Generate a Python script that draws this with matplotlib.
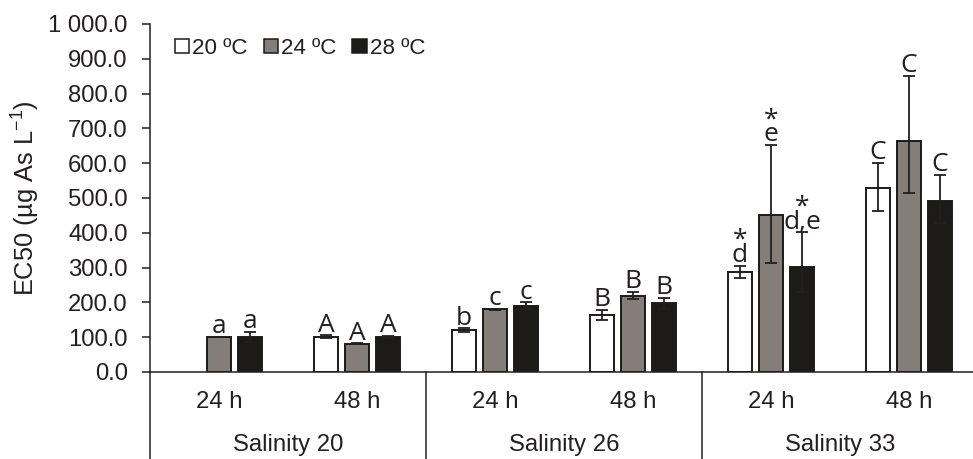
import numpy as np
import matplotlib
matplotlib.use("Agg")
import matplotlib.pyplot as plt
from matplotlib.patches import Patch
from matplotlib.ticker import FuncFormatter
import matplotlib.transforms as mtransforms

# ---------------- data ----------------
times = ["24 h", "48 h", "24 h", "48 h", "24 h", "48 h"]
salinities = ["Salinity 20", "Salinity 26", "Salinity 33"]
temps = ["20 ºC", "24 ºC", "28 ºC"]

ec50_20 = [np.nan, 101, 121, 163, 286, 528]
ec50_24 = [101, 81, 180, 217, 451, 663]
ec50_28 = [101, 101, 190, 198, 303, 492]

err_up_20 = [np.nan, 4, 5, 15, 20, 74]
err_lo_20 = [np.nan, 4, 5, 15, 17, 64]
err_up_24 = [1, 1, 1, 13, 202, 188]
err_lo_24 = [1, 1, 1, 8, 137, 148]
err_up_28 = [15, 3, 10, 16, 98, 75]
err_lo_28 = [15, 3, 10, 16, 73, 64]

lab_20 = ["", "A", "b", "B", "*\nd", "C"]
lab_24 = ["a", "A", "c", "B", "*\ne", "C"]
lab_28 = ["a", "A", "c", "B", "*\nd,e", "C"]

yticks = [0, 100, 200, 300, 400, 500, 600, 700, 800, 900, 1000]

# ---------------- style ----------------
plt.rcParams["font.family"] = ["Liberation Sans", "DejaVu Sans"]
plt.rcParams["mathtext.fontset"] = "custom"
plt.rcParams["mathtext.rm"] = "Liberation Sans"
TXT = "#231f20"
colors = ["#ffffff", "#857d77", "#1c1b17"]
EDGE = "#1c1b17"
FS = 17.2
AFS = 19

fig = plt.figure(figsize=(9.73, 4.59), dpi=100)
ax = fig.add_axes([150 / 973, 87 / 459, 828 / 973, 348 / 459])

x = np.arange(len(times))
off = 0.2246
w = 0.1775
series = [(ec50_20, err_lo_20, err_up_20, lab_20),
          (ec50_24, err_lo_24, err_up_24, lab_24),
          (ec50_28, err_lo_28, err_up_28, lab_28)]

for i, (vals, lo, up, labs) in enumerate(series):
    xs = x + (i - 1) * off
    ax.bar(xs, vals, width=w, color=colors[i], edgecolor=EDGE,
           linewidth=1.4, zorder=2)
    ax.errorbar(xs, vals, yerr=[lo, up], fmt="none", ecolor=TXT,
                elinewidth=1.3, capsize=4.5, capthick=1.3, zorder=3)
    for xi, v, u, lab in zip(xs, vals, up, labs):
        if lab:
            ax.annotate(lab, (xi, v + u), xytext=(0, -1.7),
                        textcoords="offset points", ha="center",
                        va="bottom", fontsize=AFS, family="Open Sans",
                        linespacing=0.47, color=TXT, zorder=4)

ax.set_xlim(-0.5, len(times) - 0.5)
ax.set_ylim(0, 1000)
ax.set_yticks(yticks)
ax.yaxis.set_major_formatter(
    FuncFormatter(lambda v, p: f"{v:,.1f}".replace(",", " ")))
ax.tick_params(axis="y", direction="out", length=6, width=1.1,
               labelsize=FS, pad=10, colors=TXT)
ax.set_xticks([])
for s in ["top", "right"]:
    ax.spines[s].set_visible(False)
for s in ["left", "bottom"]:
    ax.spines[s].set_linewidth(1.1)
    ax.spines[s].set_color(TXT)

ax.set_ylabel("EC50 (µg As L$^{\\mathregular{-1}}$)", fontsize=18.3, color=TXT)
ax.yaxis.set_label_coords(-0.1305, 0.5)

# category separators and labels below the axis
trans = mtransforms.blended_transform_factory(ax.transData, ax.transAxes)
for b in np.arange(-0.5, len(times), 2):
    ax.plot([b, b], [0, -0.26], transform=trans, color=TXT, lw=1.1,
            clip_on=False)
for xi, t in zip(x, times):
    ax.text(xi, -0.0853, t, transform=trans, ha="center", va="center",
            fontsize=FS, color=TXT)
for j, s in enumerate(salinities):
    ax.text(2 * j + 0.5, -0.21, s, transform=trans, ha="center",
            va="center", fontsize=FS, color=TXT)

handles = [Patch(facecolor=c, edgecolor=EDGE, linewidth=1.1) for c in colors]
ax.legend(handles, temps, loc="center left", bbox_to_anchor=(0.030, 0.931),
          ncol=3, frameon=False, fontsize=16.1, handlelength=0.64,
          handleheight=0.6, handletextpad=0.14, columnspacing=0.71,
          borderpad=0, borderaxespad=0, labelcolor=TXT)

fig.savefig("out.png", dpi=100)
